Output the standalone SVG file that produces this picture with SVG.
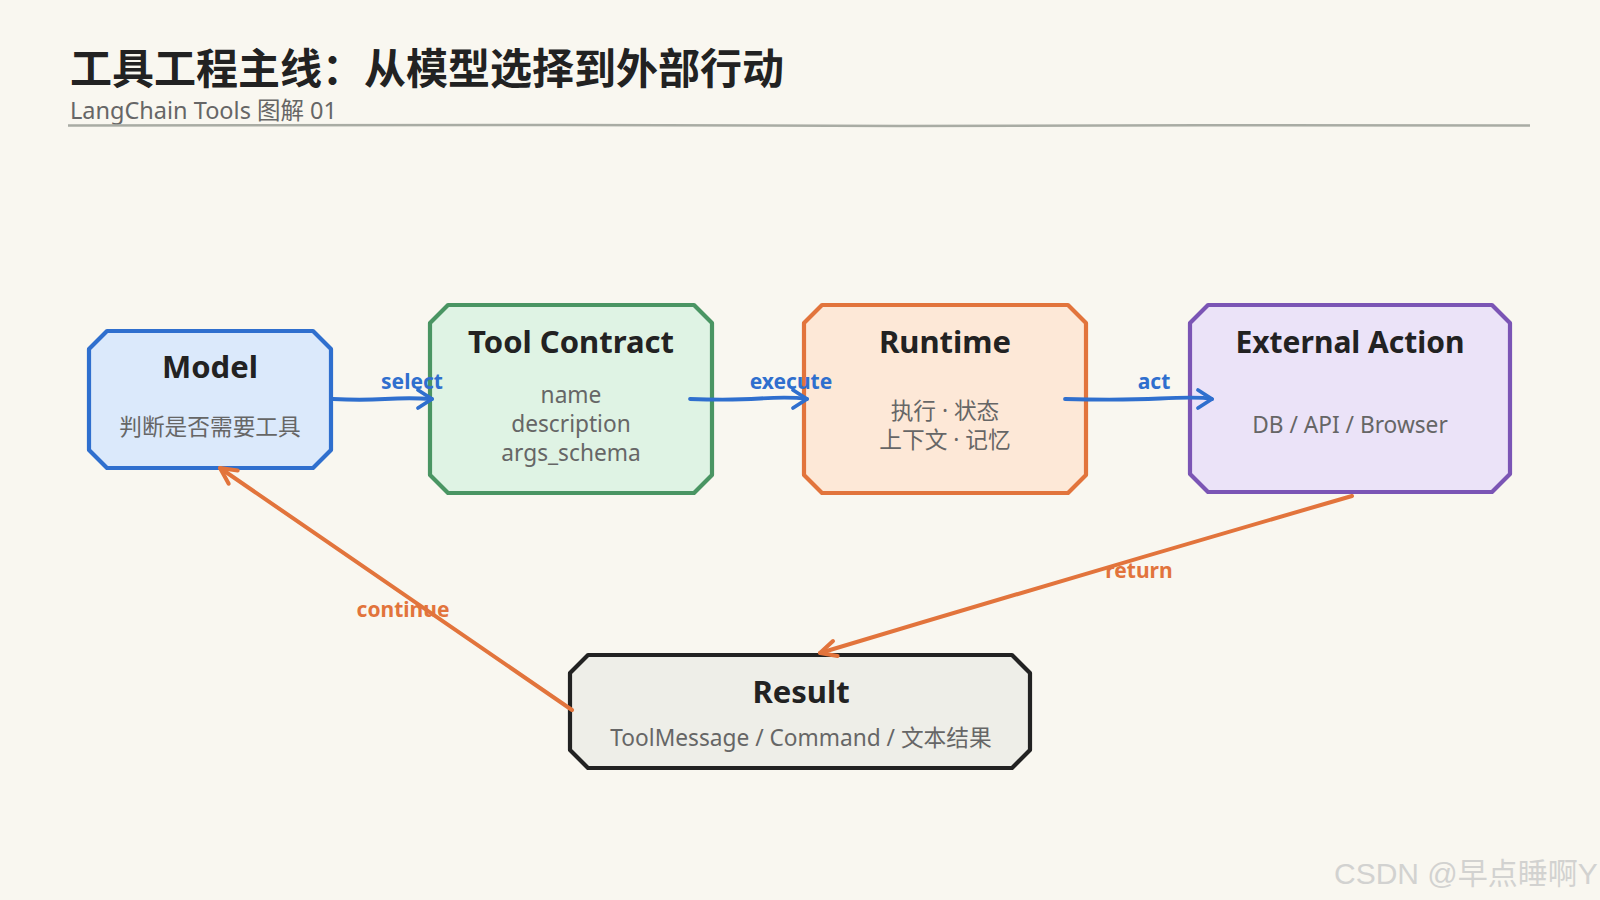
<svg xmlns="http://www.w3.org/2000/svg" width="1600" height="900" viewBox="0 0 1600 900">
<defs>
<style>
.bg{fill:#f9f7f0}
.title{font-family:"Noto Sans CJK SC","Noto Sans",sans-serif;font-weight:700;font-size:42px;fill:#222}
.sub{font-family:"Noto Sans","Noto Sans CJK SC",sans-serif;font-size:23.5px;fill:#666}
.ntitle{font-family:"Noto Sans","Noto Sans CJK SC",sans-serif;font-weight:700;font-size:31px;fill:#222;text-anchor:middle}
.ntext{font-family:"Noto Sans","Noto Sans CJK SC",sans-serif;font-size:22.7px;fill:#666;text-anchor:middle}
.lbl{font-family:"Noto Sans","Noto Sans CJK SC",sans-serif;font-weight:700;font-size:21px;text-anchor:middle}
.blue{stroke:#2f6fce;fill:none;stroke-width:3.8;stroke-linecap:round;stroke-linejoin:round}
.orange{stroke:#e2743c;fill:none;stroke-width:4;stroke-linecap:round;stroke-linejoin:round}
.box{stroke-width:4.2;stroke-linejoin:round}
.wm{font-family:"Liberation Sans","Noto Sans CJK SC",sans-serif;font-size:30px;fill:#d2d2d0}
</style>
</defs>
<rect class="bg" x="0" y="0" width="1600" height="900"/>

<g id="header">
<text class="title" x="70" y="84">工具工程主线：从模型选择到外部行动</text>
<text class="sub" x="70" y="119">LangChain Tools 图解 01</text>
<path d="M68,125.5 L560,125 L900,126 L1200,125.3 L1530,125.5" stroke="#a9aca4" stroke-width="2.5" fill="none"/>
</g>

<g id="node-model">
<path class="box" d="M107,331 H313 L331,349 V450 L313,468 H107 L89,450 V349 Z" fill="#dbe9fb" stroke="#2f6fce"/>
<text class="ntitle" x="210" y="378">Model</text>
<text class="ntext" x="210" y="435">判断是否需要工具</text>
</g>

<g id="node-tool-contract">
<path class="box" d="M448,305 H694 L712,323 V475 L694,493 H448 L430,475 V323 Z" fill="#dff3e4" stroke="#4a9563"/>
<text class="ntitle" x="571" y="353">Tool Contract</text>
<text class="ntext" x="571" y="403">name</text>
<text class="ntext" x="571" y="432">description</text>
<text class="ntext" x="571" y="461">args_schema</text>
</g>

<g id="node-runtime">
<path class="box" d="M822,305 H1068 L1086,323 V475 L1068,493 H822 L804,475 V323 Z" fill="#fde8d7" stroke="#e2743c"/>
<text class="ntitle" x="945" y="353">Runtime</text>
<text class="ntext" x="945" y="419">执行 · 状态</text>
<text class="ntext" x="945" y="448">上下文 · 记忆</text>
</g>

<g id="node-external-action">
<path class="box" d="M1208,305 H1492 L1510,323 V474 L1492,492 H1208 L1190,474 V323 Z" fill="#ebe3f8" stroke="#7b55b5"/>
<text class="ntitle" x="1350" y="353" style="font-size:30px">External Action</text>
<text class="ntext" x="1350" y="433">DB / API / Browser</text>
</g>

<g id="node-result">
<path class="box" d="M588,655 H1012 L1030,673 V750 L1012,768 H588 L570,750 V673 Z" fill="#eeeee8" stroke="#222"/>
<text class="ntitle" x="801" y="703">Result</text>
<text class="ntext" x="801" y="746">ToolMessage / Command / 文本结果</text>
</g>

<g id="connectors">
<path class="blue" d="M333,399 Q360,400.5 385,399 T432,399"/>
<path class="blue" d="M418,390 L432,399 L418,408"/>
<text class="lbl" x="412" y="389" fill="#2f6fce">select</text>

<path class="blue" d="M690,399 Q730,400.5 760,398.5 T807,399"/>
<path class="blue" d="M793,390 L807,399 L793,408"/>
<text class="lbl" x="791" y="389" fill="#2f6fce">execute</text>

<path class="blue" d="M1065,399 Q1120,400.5 1160,398.5 T1212,399"/>
<path class="blue" d="M1198,390 L1212,399 L1198,408"/>
<text class="lbl" x="1154" y="389" fill="#2f6fce">act</text>

<path class="orange" d="M1352,496 Q1090,572 820,653"/>
<path class="orange" d="M833,641 L820,653 L837.6,656"/>
<text class="lbl" x="1139" y="578" fill="#e2743c">return</text>

<path class="orange" d="M572,710 Q400,592 220,468"/>
<path class="orange" d="M237.7,470.5 L220,468 L228.7,483.7"/>
<text class="lbl" x="403" y="617" fill="#e2743c">continue</text>
</g>

<text class="wm" x="1334" y="884">CSDN @早点睡啊Y</text>
</svg>
